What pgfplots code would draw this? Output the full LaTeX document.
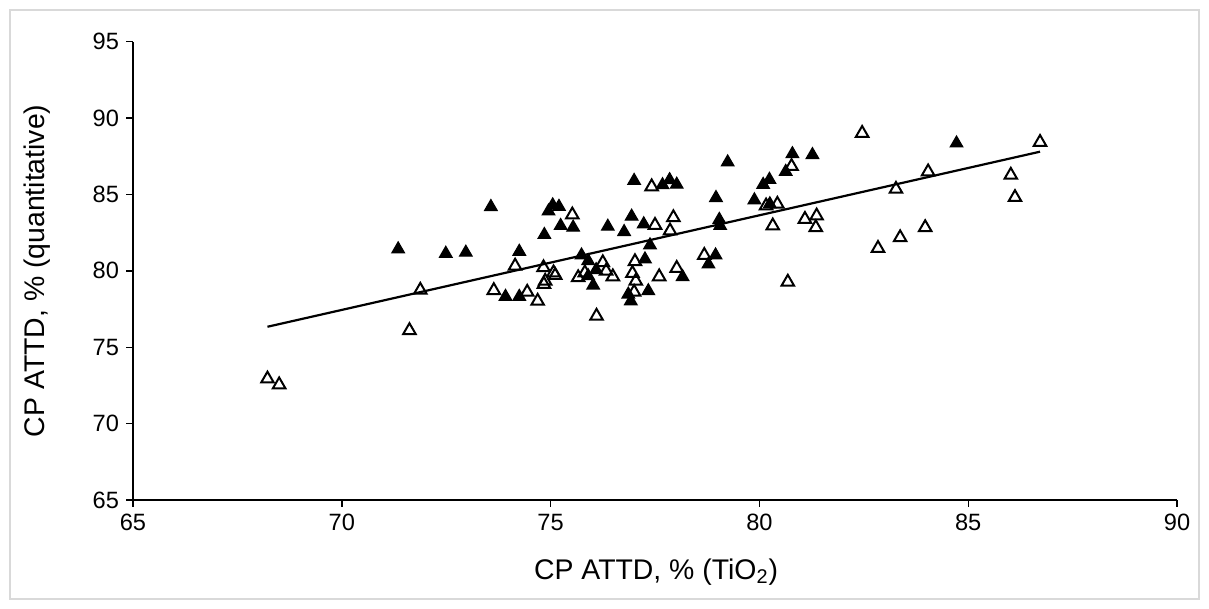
\documentclass[border=0pt]{standalone}
\usepackage{pgfplots}
\pgfplotsset{compat=1.18}
\usepackage{fontspec}
\setmainfont{Liberation Sans}
\begin{document}
\begin{tikzpicture}
\path[use as bounding box] (0pt,0pt) rectangle (604.5pt,304.5pt);
\draw[black!15, line width=0.8pt] (5pt,5pt) rectangle (599.5pt,299.5pt);
\begin{axis}[
  at={(66.5pt,54.5pt)}, anchor=south west,
  scale only axis, width=522pt, height=229.15pt,
  xmin=65, xmax=90, ymin=65, ymax=95,
  xtick={65,70,...,90}, ytick={65,70,...,95},
  axis lines*=left,
  axis line style={line width=0.7pt},
  tick style={line width=0.7pt, black},
  tick align=outside, major tick length=3.5pt,
  /pgf/number format/assume math mode=true,
  tick label style={font=\fontsize{11.8}{13}\selectfont},
  label style={font=\fontsize{14.2}{16}\selectfont},
  xlabel={CP ATTD, \% (TiO\textsubscript{2})},
  ylabel={CP ATTD, \% (quantitative)},
  xlabel style={at={(axis description cs:0.501,-0.157)}, anchor=center},
  ylabel style={at={(axis description cs:-0.092,0.5)}, anchor=center},
  clip=false,
]
\addplot[black, line width=1.1pt, no marks] coordinates {(68.22,76.34) (86.72,87.80)};
\addplot[only marks, mark=triangle, mark size=3.6pt, mark options={fill=white, draw=black, line width=1pt}] table {
x y
74.15 80.32
71.88 78.74
73.64 78.72
74.44 78.61
74.69 78.02
71.62 76.10
68.22 72.93
68.50 72.55
77.42 85.51
75.52 83.67
77.50 82.99
77.86 82.62
76.25 80.54
75.82 79.88
75.66 79.56
76.33 79.99
76.49 79.62
77.02 80.61
76.96 79.84
77.04 79.33
77.00 78.61
77.60 79.62
76.10 77.04
74.83 80.21
75.07 79.88
75.11 79.71
74.87 79.33
74.84 79.12
80.77 86.84
80.16 84.26
80.43 84.37
77.94 83.49
80.32 82.95
81.09 83.38
81.37 83.60
81.35 82.84
78.68 81.02
78.02 80.17
80.68 79.27
82.46 89.01
86.72 88.42
84.04 86.49
83.27 85.35
86.02 86.27
86.12 84.81
82.84 81.48
83.37 82.18
83.97 82.84
};
\addplot[only marks, mark=triangle*, mark size=3.6pt, mark options={fill=black, draw=black, line width=0.6pt}] table {
x y
73.57 84.19
71.35 81.42
72.49 81.13
72.97 81.20
74.25 81.26
73.92 78.31
74.25 78.31
77.00 85.90
77.68 85.62
77.85 85.95
78.02 85.65
74.95 83.90
75.05 84.30
75.20 84.20
75.24 82.95
75.54 82.84
74.85 82.36
76.37 82.90
76.94 83.56
76.76 82.55
77.23 83.06
77.38 81.68
75.74 81.02
75.90 80.65
76.09 80.06
75.90 79.66
76.02 79.05
77.26 80.76
76.86 78.46
76.92 78.02
77.34 78.68
79.24 87.11
80.79 87.65
81.27 87.59
80.63 86.49
80.24 85.97
80.09 85.64
78.96 84.78
79.88 84.63
80.25 84.37
79.04 83.35
79.06 82.95
78.95 81.02
78.78 80.43
78.16 79.60
84.72 88.35
};
\end{axis}
\end{tikzpicture}
\end{document}
